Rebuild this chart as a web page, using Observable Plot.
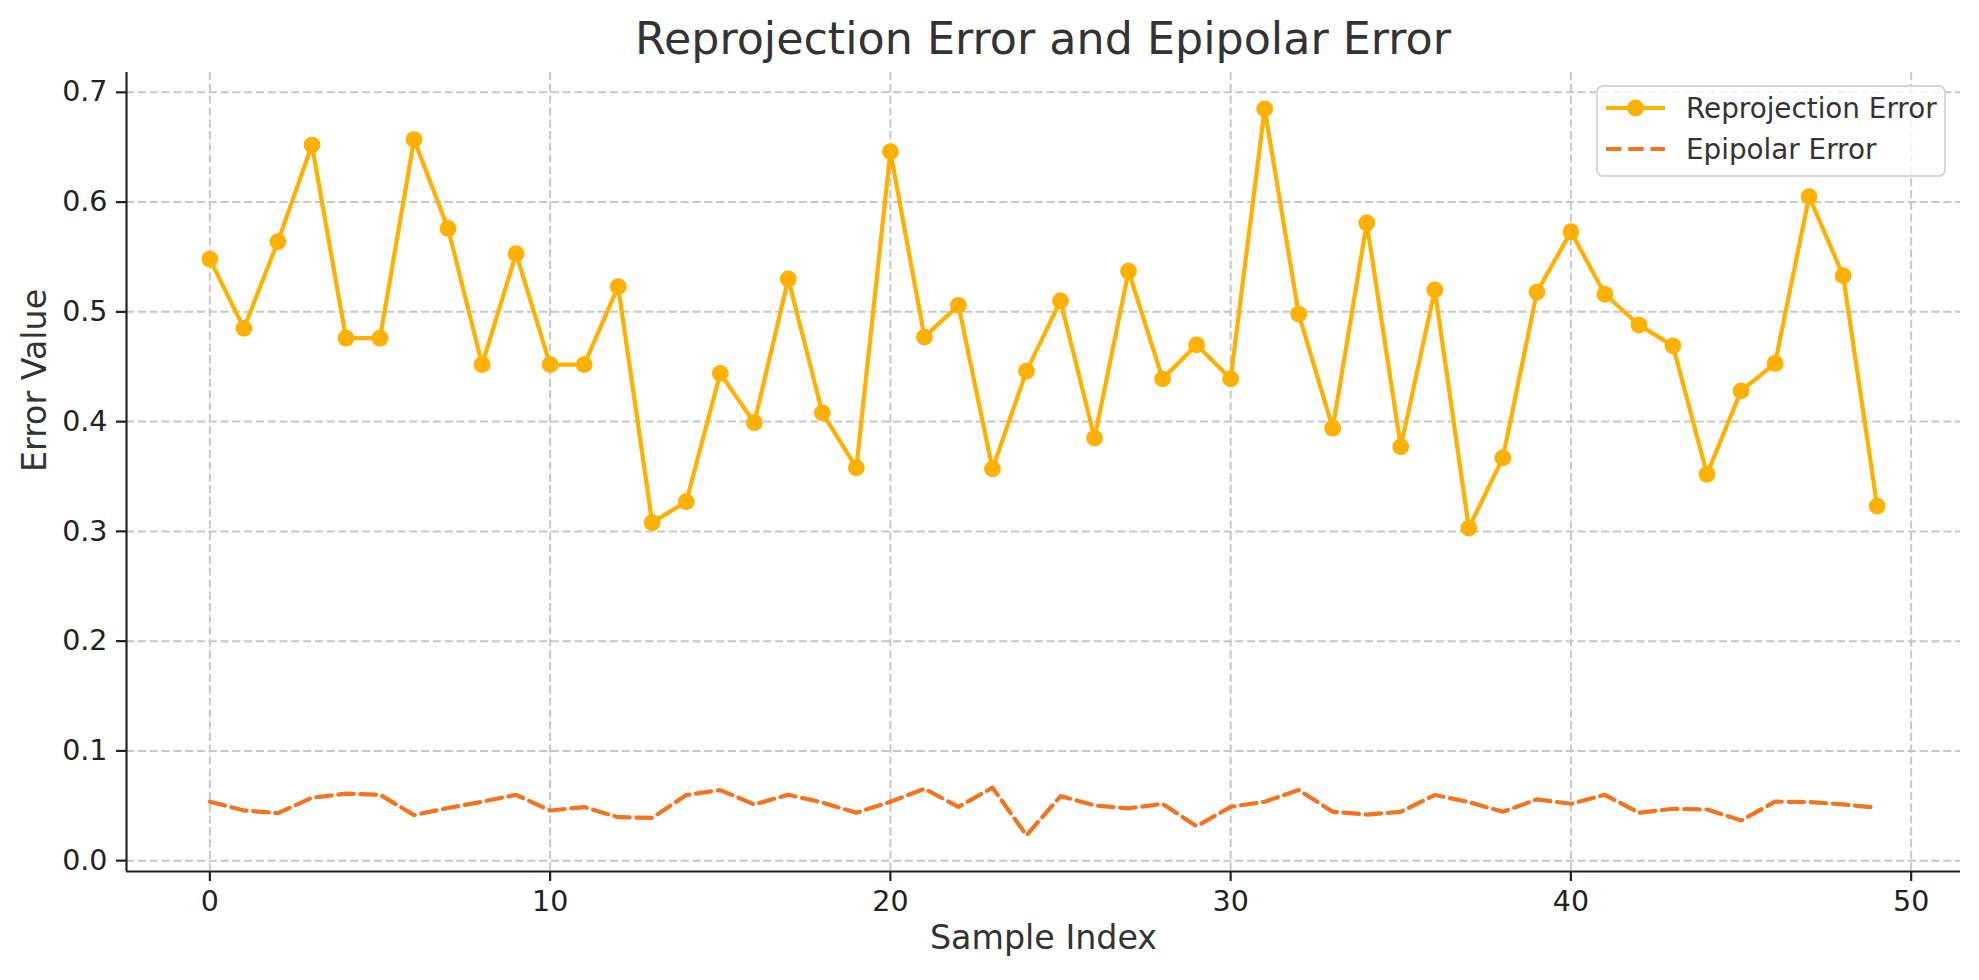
<!DOCTYPE html>
<html>
<head>
<meta charset="utf-8">
<script src="https://cdn.jsdelivr.net/npm/d3@7"></script>
<script src="https://cdn.jsdelivr.net/npm/@observablehq/plot@0.6"></script>
<style>
html, body { margin: 0; padding: 0; background: #fff; }
#fig { position: relative; width: 1979px; height: 980px; font-family: "DejaVu Sans", sans-serif; overflow: hidden; background: #fff; }
#title { position: relative; height: 60px; }
#title span { position: absolute; left: 1043px; top: 17px; transform: translateX(-50%); font-size: 44.4px; line-height: 1; color: #333; white-space: nowrap; }
#chart svg { display: block; }
#legend { position: absolute; left: 1596px; top: 85px; width: 346px; height: 88px; border: 2px solid #d6d6d6; border-radius: 7px; background: rgba(255,255,255,0.8); }
#legend svg { position: absolute; left: 0; top: 0; }
#legend .lbl { position: absolute; left: 88px; font-size: 27.8px; line-height: 1; color: #333; white-space: nowrap; }
</style>
</head>
<body>
<div id="fig">
  <div id="title"><span>Reprojection Error and Epipolar Error</span></div>
  <div id="chart"></div>
  <div id="legend">
    <svg width="80" height="88">
      <line x1="8" y1="21" x2="67" y2="21" stroke="#FFB000" stroke-width="4.2"></line>
      <circle cx="37.5" cy="21" r="8.4" fill="#FFB000"></circle>
      <line x1="8" y1="62" x2="67" y2="62" stroke="#F4731F" stroke-width="4.2" stroke-dasharray="15.5,6.7"></line>
    </svg>
    <span class="lbl" style="top:7.6px">Reprojection Error</span>
    <span class="lbl" style="top:48.6px">Epipolar Error</span>
  </div>
</div>
<script>
// ---- data ----
const sampleIndex = [0,1,2,3,4,5,6,7,8,9,10,11,12,13,14,15,16,17,18,19,20,21,22,23,24,25,26,27,28,29,30,31,32,33,34,35,36,37,38,39,40,41,42,43,44,45,46,47,48,49];

const reprojectionError = [0.548,0.485,0.564,0.652,0.476,0.476,0.657,0.576,0.452,0.553,
  0.452,0.452,0.523,0.308,0.327,0.444,0.399,0.530,0.408,0.358,
  0.646,0.477,0.506,0.357,0.446,0.510,0.385,0.537,0.439,0.470,
  0.439,0.685,0.498,0.394,0.581,0.377,0.520,0.303,0.367,0.518,
  0.573,0.516,0.488,0.469,0.352,0.428,0.453,0.605,0.533,0.323];

const epipolarError = [0.0537,0.0457,0.0433,0.0573,0.0610,0.0600,0.0415,0.0480,0.0537,0.0600,
  0.0457,0.0488,0.0396,0.0390,0.0598,0.0643,0.0512,0.0600,0.0530,0.0436,
  0.0537,0.0655,0.0490,0.0665,0.0232,0.0588,0.0503,0.0476,0.0518,0.0314,
  0.0490,0.0537,0.0643,0.0445,0.0420,0.0445,0.0598,0.0534,0.0445,0.0558,
  0.0518,0.0600,0.0436,0.0473,0.0466,0.0366,0.0537,0.0534,0.0512,0.0482];

const xTicks = [0,10,20,30,40,50];
const yTicks = [0,0.1,0.2,0.3,0.4,0.5,0.6,0.7];

// ---- derived ----
const reproj = sampleIndex.map((d, i) => ({index: d, value: reprojectionError[i]}));
const epi = sampleIndex.map((d, i) => ({index: d, value: epipolarError[i]}));

function padded([a, b], m = 0.05) { const r = b - a; return [a - r * m, b + r * m]; }
const xDomain = padded(d3.extent(sampleIndex));
const yDomain = padded(d3.extent([...reprojectionError, ...epipolarError]));

const gridStyle = {stroke: "#c8c8c8", strokeOpacity: 1, strokeWidth: 2, strokeDasharray: "8.2,3.6"};
const ink = "#222";

const chart = Plot.plot({
  width: 1979,
  height: 920,
  marginTop: 12,
  marginRight: 19,
  marginBottom: 109,
  marginLeft: 126,
  style: {fontFamily: "DejaVu Sans", fontSize: "27.8px", color: ink, background: "transparent", overflow: "visible"},
  x: {domain: xDomain},
  y: {domain: yDomain},
  marks: [
    Plot.gridX(xTicks, gridStyle),
    Plot.gridY(yTicks, gridStyle),
    Plot.ruleX([xDomain[0]], {stroke: ink, strokeWidth: 2.2}),
    Plot.ruleY([yDomain[0]], {stroke: ink, strokeWidth: 2.2}),
    Plot.axisX(xTicks, {tickSize: 10, tickPadding: 9, tickFormat: d3.format("d"), label: null, strokeWidth: 2.2, fontSize: 28.5, fill: ink, stroke: ink}),
    Plot.axisY(yTicks, {tickSize: 10, tickPadding: 9, tickFormat: d3.format(".1f"), label: null, strokeWidth: 2.2, fontSize: 28.5, fill: ink, stroke: ink}),
    Plot.line(reproj, {x: "index", y: "value", stroke: "#FFB000", strokeWidth: 4.2, strokeLinejoin: "round"}),
    Plot.dot(reproj, {x: "index", y: "value", r: 8.4, fill: "#FFB000", stroke: "none"}),
    Plot.line(epi, {x: "index", y: "value", stroke: "#F4731F", strokeWidth: 4.2, strokeDasharray: "15.5,6.7", strokeLinejoin: "round"}),
    Plot.text(["Sample Index"], {frameAnchor: "bottom", dy: 77, fontSize: 33.3, fill: "#333"}),
    Plot.text(["Error Value"], {frameAnchor: "left", dx: -91, rotate: -90, fontSize: 33.3, fill: "#333"})
  ]
});
document.getElementById("chart").appendChild(chart);
</script>
</body>
</html>
